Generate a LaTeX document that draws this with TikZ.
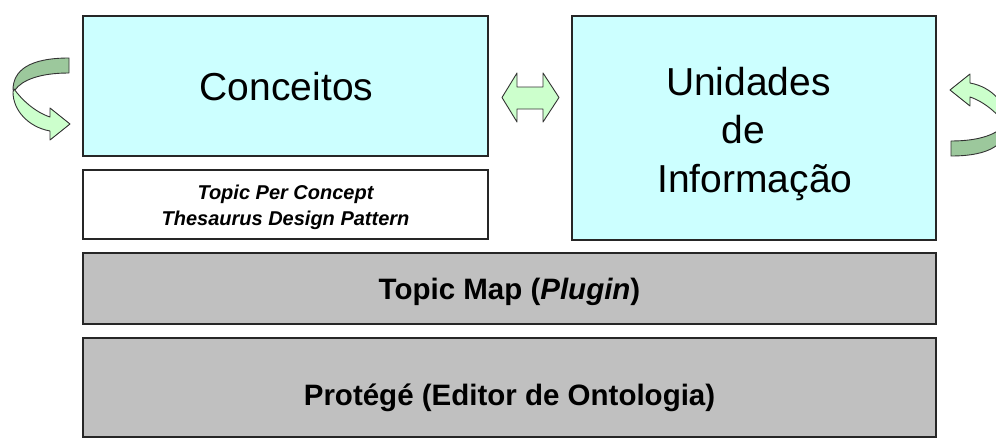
\documentclass[tikz,border=0pt]{standalone}
\usepackage{fontspec}
\setmainfont{Liberation Sans}
\definecolor{cyanfill}{HTML}{CCFFFF}
\definecolor{greyfill}{HTML}{C0C0C0}
\definecolor{lightgreen}{HTML}{CCFFCC}
\definecolor{darkgreen}{HTML}{9CC89C}
\begin{document}
\begin{tikzpicture}[x=1pt,y=-1pt,
  box/.style={draw=black!85, line width=2pt, inner sep=0pt, outer sep=0pt},
  lbl/.style={anchor=base, inner sep=0pt, outer sep=0pt},
  bigfont/.style={font=\fontsize{39}{47}\selectfont},
  midfont/.style={font=\fontsize{29.5}{35}\selectfont\bfseries},
  smallfont/.style={font=\fontsize{20}{25}\selectfont\bfseries\itshape},
  ribbon/.style={draw=black!80, line width=0.9pt, line join=round},
  back/.style={ribbon, fill=darkgreen},
  front/.style={ribbon, fill=lightgreen}]
\useasboundingbox (0,0) rectangle (996,442);
% boxes
\node[box, fill=cyanfill, minimum width=405pt, minimum height=140pt] (conc) at (285.5,86) {};
\node[box, fill=white, minimum width=405pt, minimum height=69pt] (tpc) at (285.5,204.5) {};
\node[box, fill=cyanfill, minimum width=364pt, minimum height=224pt] (unid) at (754,128) {};
\node[box, fill=greyfill, minimum width=853pt, minimum height=71pt] (tm) at (509.5,288.5) {};
\node[box, fill=greyfill, minimum width=853pt, minimum height=99pt] (prot) at (509.5,387.5) {};
% texts
\node[lbl, bigfont] (tconc) at (286.5,100) {Conceitos};
\node[lbl, bigfont] (tun1) at (748.5,95) {Unidades};
\node[lbl, bigfont] (tun2) at (743.5,143) {de};
\node[lbl, bigfont] (tun3) at (755,192) {Informação};
\node[lbl, smallfont] (ttpc1) at (285.5,199) {Topic Per Concept};
\node[lbl, smallfont] (ttpc2) at (285.5,225) {Thesaurus Design Pattern};
\node[lbl, midfont] (ttm) at (509.5,299) {Topic Map (\textit{Plugin})};
\node[lbl, midfont] (tprot) at (509.5,405) {Protégé (Editor de Ontologia)};
% double arrow between the two cyan boxes
\draw[front] (502,97.5) -- (517,73) -- (517,87) -- (543,87) -- (543,73) -- (559,97.5)
  -- (543,122) -- (543,109) -- (517,109) -- (517,122) -- cycle;
% left curved arrow
\begin{scope}
\draw[back] (69,58) .. controls (30,58) and (13,70) .. (13,90) -- (15,90)
  .. controls (22,80) and (40,73) .. (69,73) -- cycle;
\draw[front] (14,89) .. controls (22,100) and (35,112) .. (50,117) -- (50,108) -- (70,124)
  -- (50,140) -- (50,131) .. controls (28,127) and (13,110) .. (13,92) -- cycle;
\end{scope}
% right curved arrow (left one turned half round)
\begin{scope}[shift={(1020,214)}, xscale=-1, yscale=-1]
\draw[back] (69,58) .. controls (30,58) and (13,70) .. (13,90) -- (15,90)
  .. controls (22,80) and (40,73) .. (69,73) -- cycle;
\draw[front] (14,89) .. controls (22,100) and (35,112) .. (50,117) -- (50,108) -- (70,124)
  -- (50,140) -- (50,131) .. controls (28,127) and (13,110) .. (13,92) -- cycle;
\end{scope}
\end{tikzpicture}
\end{document}
